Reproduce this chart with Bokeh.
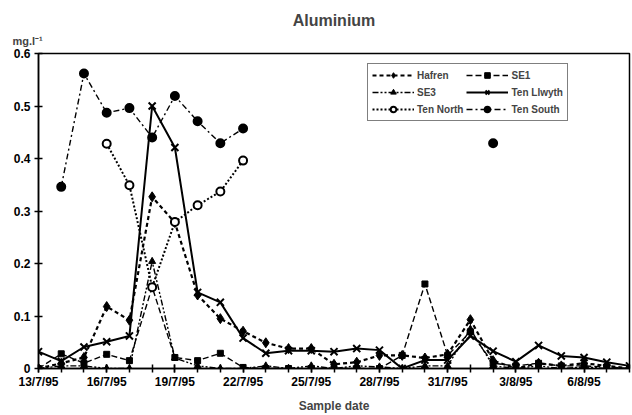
import numpy as np
from bokeh.plotting import figure
from bokeh.models import FixedTicker, Legend, LegendItem, Title, Range1d
from bokeh.embed import file_html
from bokeh.resources import INLINE

nan = float("nan")

# Daily samples, 13/7/95 (day 0) to 8/8/95 (day 26)
days = list(range(27))
tick_days = [0, 3, 6, 9, 12, 15, 18, 21, 24]
tick_labels = ["13/7/95", "16/7/95", "19/7/95", "22/7/95", "25/7/95",
               "28/7/95", "31/7/95", "3/8/95", "6/8/95"]
y_ticks = [0, 0.1, 0.2, 0.3, 0.4, 0.5, 0.6]
y_tick_labels = ["0", "0.1", "0.2", "0.3", "0.4", "0.5", "0.6"]

hafren = [0.0, 0.010, 0.021, 0.118, 0.092, 0.327, 0.278, 0.140, 0.095, 0.071,
          0.049, 0.038, 0.038, 0.008, 0.012, 0.025, 0.025, 0.020, 0.027, 0.093,
          0.015, 0.0, 0.010, 0.005, 0.010, 0.005, 0.0]
se1 = [0.0, 0.028, 0.010, 0.027, 0.015, 0.155, 0.021, 0.015, 0.029, 0.002,
       0.0, 0.0, 0.0, 0.0, 0.0, 0.0, 0.025, 0.161, 0.025, 0.070,
       0.010, 0.005, 0.010, 0.005, 0.005, 0.003, 0.0]
se3 = [0.0, 0.005, 0.005, 0.0, 0.0, 0.204, 0.020, 0.005, 0.0, 0.0,
       0.005, 0.0, 0.005, 0.0, 0.005, 0.003, 0.0, 0.005, 0.005, 0.075,
       0.005, 0.0, 0.005, 0.0, 0.003, 0.0, 0.0]
ten_llwyth = [0.032, 0.014, 0.041, 0.051, 0.062, 0.500, 0.421, 0.145, 0.126, 0.058,
              0.029, 0.034, 0.034, 0.032, 0.038, 0.035, 0.0, 0.016, 0.016, 0.062,
              0.033, 0.013, 0.044, 0.024, 0.021, 0.012, 0.005]
ten_north = [nan, nan, nan, 0.428, 0.349, 0.155, 0.279, 0.311, 0.337, 0.396,
             nan, nan, nan, nan, nan, nan, nan, nan, nan, nan,
             nan, nan, nan, nan, nan, nan, nan]
ten_south = [nan, 0.346, 0.562, 0.487, 0.496, 0.440, 0.519, 0.471, 0.429, 0.457,
             nan, nan, nan, nan, nan, nan, nan, nan, nan, nan,
             0.429, nan, nan, nan, nan, nan, nan]

FONT = "Liberation Sans"

p = figure(width=632, height=415, output_backend="svg", toolbar_location=None,
           x_range=Range1d(0, 26), y_range=Range1d(0, 0.6),
           min_border_left=38, min_border_right=3, min_border_top=53,
           min_border_bottom=46, title=None)
p.background_fill_color = "white"
p.border_fill_color = "white"
p.outline_line_color = "black"
p.outline_line_width = 1.5
p.xgrid.visible = False
p.ygrid.visible = False

# axes
p.xaxis.ticker = FixedTicker(ticks=tick_days, minor_ticks=days)
p.xaxis.major_label_overrides = dict(zip(tick_days, tick_labels))
p.yaxis.ticker = FixedTicker(ticks=y_ticks, minor_ticks=[])
p.yaxis.major_label_overrides = dict(zip(y_ticks, y_tick_labels))
for ax in (p.xaxis, p.yaxis):
    ax.axis_line_color = "black"
    ax.axis_line_width = 1.5
    ax.major_tick_line_color = "black"
    ax.major_tick_line_width = 1.5
    ax.major_tick_in = 4
    ax.major_tick_out = 4
    ax.minor_tick_line_color = "black"
    ax.minor_tick_line_width = 1.5
    ax.minor_tick_in = 4
    ax.minor_tick_out = 4
    ax.major_label_text_font = FONT
    ax.major_label_text_font_style = "bold"
    ax.major_label_text_font_size = "12px"
    ax.major_label_text_color = "black"
p.xaxis.major_label_standoff = 2
p.yaxis.major_label_standoff = 4
p.xaxis.axis_label = "Sample date"
p.xaxis.axis_label_text_font = FONT
p.xaxis.axis_label_text_font_style = "bold"
p.xaxis.axis_label_text_font_size = "12px"
p.xaxis.axis_label_standoff = 7

# titles
p.add_layout(Title(text="mg.l\u207b\u00b9", align="left", offset=-26,
                   text_font=FONT, text_font_style="bold",
                   text_font_size="11px", standoff=13), "above")
p.add_layout(Title(text="Aluminium", align="center",
                   text_font=FONT, text_font_style="bold",
                   text_font_size="16px", standoff=-5), "above")

series = [
    ("Hafren", hafren, dict(line_dash="4 3", line_width=2.2),
     dict(marker="diamond", size=10, fill_color="black")),
    ("SE1", se1, dict(line_dash="6 3", line_width=1.4),
     dict(marker="square", size=6, fill_color="black")),
    ("SE3", se3, dict(line_dash="6 2 2 2 2 2", line_width=1.4),
     dict(marker="triangle", size=7, fill_color="black")),
    ("Ten Llwyth", ten_llwyth, dict(line_dash="solid", line_width=2),
     dict(marker="x", size=10, fill_color="black")),
    ("Ten North", ten_north, dict(line_dash="2 2", line_width=2),
     dict(marker="circle", size=8, fill_color="white")),
    ("Ten South", ten_south, dict(line_dash="6 3 2 3", line_width=1.4),
     dict(marker="circle", size=8, fill_color="black")),
]

items = []
for name, vals, lstyle, mstyle in series:
    y = np.array(vals, dtype=float)
    r1 = p.line(days, y, line_color="black", **lstyle)
    r2 = p.scatter(days, y, line_color="black",
                   line_width=2 if mstyle["marker"] in ("x", "circle") else 1,
                   **mstyle)
    items.append(LegendItem(label=name, renderers=[r1, r2]))

legend = Legend(items=items, location=(329, 247), orientation="horizontal", ncols=2,
                label_text_font=FONT, label_text_font_style="bold",
                label_text_font_size="10px", glyph_width=42, glyph_height=14,
                label_height=14, label_standoff=3, spacing=3, padding=4,
                margin=0, border_line_color="black", border_line_width=1.5,
                background_fill_alpha=1.0)
p.add_layout(legend, "center")

open("out.html", "w").write(file_html(p, INLINE))
